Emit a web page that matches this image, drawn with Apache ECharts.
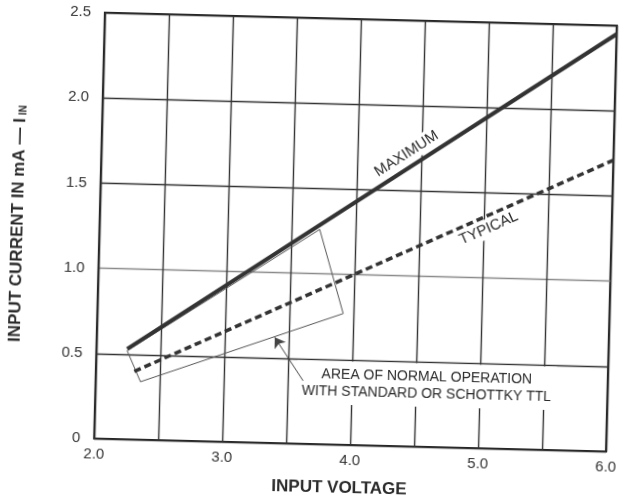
<!DOCTYPE html>
<html>
<head>
<meta charset="utf-8">
<script src="https://cdn.jsdelivr.net/npm/echarts@6/dist/echarts.min.js"></script>
<style>
  html, body { margin: 0; padding: 0; background: #fff; overflow: hidden; }
  /* the printed sheet sits a little askew */
  #chart { width: 625px; height: 504px; transform: rotate(1.45deg); transform-origin: 50% 50%; }
</style>
</head>
<body>
<div id="chart"></div>
<script>
// Tick labels shown on each axis (gridlines every 0.5)
const xTickLabels = [2, 3, 4, 5, 6];
const yTickLabels = [0, 0.5, 1, 1.5, 2, 2.5];

// Input current vs input voltage
const maxVoltage = [2.24, 6.0];
const maxCurrent = [0.53, 2.45];
const typVoltage = [2.3, 6.0];
const typCurrent = [0.40, 1.71];

// Area of normal operation (outline)
const areaVoltage = [2.24, 3.72, 3.92, 2.35, 2.24];
const areaCurrent = [0.52, 1.26, 0.77, 0.34, 0.52];

const FONT = '"Liberation Sans", Arial, Helvetica, sans-serif';
const INK = '#2b2b2b';
const zip = (xs, ys) => xs.map((x, i) => [x, ys[i]]);

const chart = echarts.init(document.getElementById('chart'));

chart.setOption({
  animation: false,
  backgroundColor: '#fff',
  grid: {
    left: 99, right: 14, top: 18, bottom: 60,
    show: true, borderColor: '#222', borderWidth: 2.2, backgroundColor: 'transparent'
  },
  xAxis: {
    type: 'value', min: 2, max: 6, interval: 0.5,
    name: 'INPUT VOLTAGE', nameLocation: 'middle', nameGap: 35,
    nameTextStyle: { fontFamily: FONT, fontSize: 17, fontWeight: 'bold', color: INK, padding: [0, 20, 0, 0] },
    axisLine: { show: false }, axisTick: { show: false },
    axisLabel: {
      margin: 8, fontFamily: FONT, fontSize: 15, color: '#333',
      formatter: v => xTickLabels.includes(v) ? v.toFixed(1) : ''
    },
    splitLine: { show: true, lineStyle: { color: '#333', width: 1.4 } }
  },
  yAxis: {
    type: 'value', min: 0, max: 2.5, interval: 0.5,
    name: 'INPUT CURRENT IN mA — I{s|IN}', nameLocation: 'middle', nameGap: 73, nameRotate: 90,
    nameTextStyle: {
      fontFamily: FONT, fontSize: 17, fontWeight: 'bold', color: INK,
      rich: { s: { fontFamily: FONT, fontSize: 10, fontWeight: 'bold', color: INK, padding: [6, 0, 0, 3] } }
    },
    axisLine: { show: false }, axisTick: { show: false },
    axisLabel: {
      margin: 14, fontFamily: FONT, fontSize: 15, color: '#333',
      formatter: v => yTickLabels.includes(v) ? (v === 0 ? '0' : v.toFixed(1)) : ''
    },
    splitLine: { show: true, lineStyle: { color: ['#333', '#333', '#8a8a8a', '#333', '#333', '#333'], width: 1.4 } }
  },
  series: [
    {
      name: 'area', type: 'line', z: 2,
      data: zip(areaVoltage, areaCurrent),
      symbol: 'none',
      lineStyle: { color: '#555', width: 1 },
      markArea: {
        silent: true,
        itemStyle: { color: '#fff', opacity: 1 },
        label: {
          show: true, position: 'inside',
          fontFamily: FONT, fontSize: 14, lineHeight: 17, color: INK,
          formatter: 'AREA OF NORMAL OPERATION\nWITH STANDARD OR SCHOTTKY TTL'
        },
        data: [[{ coord: [3.57, 0.235] }, { coord: [5.6, 0.49] }]]
      }
    },
    {
      name: 'MAXIMUM', type: 'line', z: 3,
      data: zip(maxVoltage, maxCurrent),
      symbol: 'none',
      lineStyle: { color: '#333', width: 4 }
    },
    {
      name: 'TYPICAL', type: 'line', z: 3,
      data: zip(typVoltage, typCurrent),
      symbol: 'none',
      lineStyle: { color: '#333', width: 3.5, type: [7, 4] }
    },
    {
      name: 'pointer', type: 'lines', coordinateSystem: 'cartesian2d', z: 5,
      symbol: ['none', 'arrow'], symbolSize: 10,
      lineStyle: { color: '#444', width: 1, opacity: 1, curveness: 0 },
      data: [{ coords: [[3.62, 0.37], [3.39, 0.62]] }]
    }
  ]
});

// Curve names written along their lines
function lineLabel(xs, ys, atX, offset, text) {
  const p0 = chart.convertToPixel({ gridIndex: 0 }, [xs[0], ys[0]]);
  const p1 = chart.convertToPixel({ gridIndex: 0 }, [xs[xs.length - 1], ys[ys.length - 1]]);
  const t = (atX - xs[0]) / (xs[xs.length - 1] - xs[0]);
  const px = p0[0] + (p1[0] - p0[0]) * t;
  const py = p0[1] + (p1[1] - p0[1]) * t;
  const a = Math.atan2(p1[1] - p0[1], p1[0] - p0[0]);
  const nx = Math.sin(a), ny = -Math.cos(a);
  return {
    type: 'text', z: 10,
    x: px + nx * offset, y: py + ny * offset, rotation: -a,
    style: {
      text, fontFamily: FONT, fontSize: 15, fill: INK,
      align: 'center', verticalAlign: 'middle',
      backgroundColor: '#fff', padding: [2, 3]
    }
  };
}

chart.setOption({
  graphic: [
    lineLabel(maxVoltage, maxCurrent, 4.44, 13, 'MAXIMUM'),
    lineLabel(typVoltage, typCurrent, 5.0, -12, 'TYPICAL')
  ]
});
</script>
</body>
</html>
